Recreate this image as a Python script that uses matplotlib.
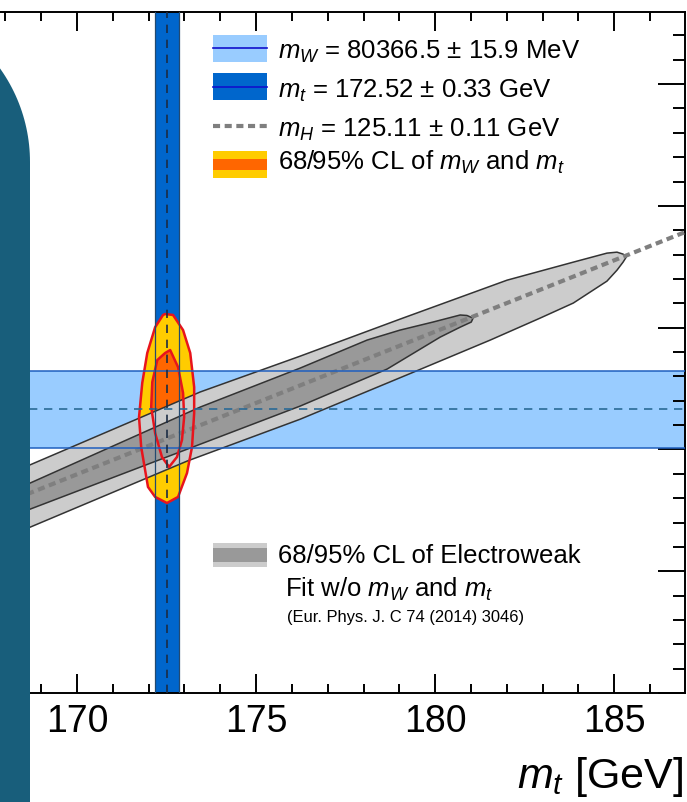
import numpy as np
import matplotlib
matplotlib.use("Agg")
import matplotlib.pyplot as plt
from matplotlib.patches import Polygon, Rectangle
from matplotlib.ticker import MultipleLocator

plt.rcParams['font.family'] = ['Liberation Sans', 'DejaVu Sans']
plt.rcParams['mathtext.fontset'] = 'custom'
plt.rcParams['mathtext.rm'] = 'Liberation Sans'
plt.rcParams['mathtext.it'] = 'Liberation Sans:italic'

# measurements (GeV)
mw_central, mw_err = 80.3665, 0.0159
mt_central, mt_err = 172.52, 0.33

# SM prediction line for m_H = 125.11 GeV
mh_line_mt = [168.0, 188.0]
mh_line_mw = [80.3281, 80.4452]

cl95_mt = [172.46, 172.68, 172.96, 173.16, 173.27, 173.27, 173.21, 173.07, 172.82,
           172.51, 172.18, 171.98, 171.79, 171.73, 171.82, 171.96, 172.18, 172.40]
cl95_mw = [80.4056, 80.4052, 80.3990, 80.3896, 80.3756, 80.3649, 80.3510, 80.3403, 80.3305,
           80.3280, 80.3305, 80.3346, 80.3510, 80.3633, 80.3773, 80.3896, 80.4002, 80.4052]
cl68_mt = [172.60, 172.82, 172.96, 172.99, 172.93, 172.79, 172.57, 172.37, 172.18,
           172.07, 172.10, 172.24, 172.46]
cl68_mw = [80.3908, 80.3838, 80.3732, 80.3633, 80.3539, 80.3469, 80.3428, 80.3469, 80.3567,
           80.3674, 80.3777, 80.3867, 80.3896]

# 68/95% CL of the electroweak fit without m_W and m_t
ew95_mt = [167.5, 173.44, 176.23, 179.02, 182.01, 183.86, 184.80, 185.08, 185.25, 185.34,
           185.25, 185.08, 184.80, 183.86, 182.93, 181.54, 179.67, 176.23, 173.07, 168.69, 167.5]
ew95_mw = [80.3362, 80.3736, 80.3883, 80.4035, 80.4195, 80.4269, 80.4306, 80.4310, 80.4302, 80.4290,
           80.4269, 80.4236, 80.4191, 80.4101, 80.4039, 80.3949, 80.3834, 80.3624, 80.3452, 80.3181, 80.3108]
ew68_mt = [167.5, 173.44, 176.23, 178.10, 179.02, 179.94, 180.70, 180.89, 181.06,
           181.01, 180.70, 180.14, 178.66, 176.23, 168.69, 167.5]
ew68_mw = [80.3284, 80.3674, 80.3834, 80.3949, 80.3990, 80.4023, 80.4052, 80.4050, 80.4039,
           80.4023, 80.4002, 80.3961, 80.3830, 80.3678, 80.3255, 80.3190]

W, H = 687, 802
fig = plt.figure(figsize=(W / 100, H / 100), dpi=100)
ax = fig.add_axes([-50 / W, (H - 693) / H, 735 / W, 681 / H])
ax.set_xlim(166.45, 186.98)
ax.set_ylim(80.25, 80.5296)

light_blue = '#99ccff'
dark_blue = '#0066cc'
gray_line = '#7f7f7f'

# bands
ax.axhspan(mw_central - mw_err, mw_central + mw_err, color=light_blue, lw=0, zorder=1)
ax.axvspan(mt_central - mt_err, mt_central + mt_err, color=dark_blue, lw=0, zorder=1.1)

# measured contours
ax.add_patch(Polygon(np.column_stack([cl95_mt, cl95_mw]), closed=True, fc='#ffcc00', ec='none', zorder=2))
ax.add_patch(Polygon(np.column_stack([cl68_mt, cl68_mw]), closed=True, fc='#ff6600', ec='none', zorder=2.1))

# EW fit contours
ax.add_patch(Polygon(np.column_stack([ew95_mt, ew95_mw]), closed=True, fc='#cccccc', ec='#333333',
                     lw=1.1, joinstyle='round', zorder=3))
ax.add_patch(Polygon(np.column_stack([ew68_mt, ew68_mw]), closed=True, fc='#999999', ec='#333333',
                     lw=1.1, joinstyle='round', zorder=3.1))
ax.plot(mh_line_mt, mh_line_mw, color=gray_line, lw=3, ls=(0, (1.7, 1.1)), zorder=3.5)

ax.add_patch(Polygon(np.column_stack([cl95_mt, cl95_mw]), closed=True, fc='none', ec='#e8141c', lw=1.8,
                     joinstyle='round', zorder=4))
ax.add_patch(Polygon(np.column_stack([cl68_mt, cl68_mw]), closed=True, fc='none', ec='#e8141c', lw=1.8,
                     joinstyle='round', zorder=4))

# band edges and central values
for v in (mw_central - mw_err, mw_central + mw_err):
    ax.axhline(v, color='#1f5fbf', lw=1.1, zorder=5)
ax.axhline(mw_central, color='#2a6a96', lw=1.2, ls=(0, (5, 4)), zorder=5)
for v in (mt_central - mt_err, mt_central + mt_err):
    ax.axvline(v, color='#234a70', lw=0.9, zorder=5)
ax.axvline(mt_central, color='#1b2c44', lw=1.2, ls=(0, (5, 4)), zorder=5)

# axes styling
ax.xaxis.set_major_locator(MultipleLocator(5))
ax.xaxis.set_minor_locator(MultipleLocator(1))
ax.yaxis.set_major_locator(MultipleLocator(0.05))
ax.yaxis.set_minor_locator(MultipleLocator(0.01))
ax.tick_params(which='both', direction='in', top=True, right=True, labelleft=False, width=1.4)
ax.tick_params(axis='x', which='major', length=13.7, labelsize=27, pad=8)
ax.tick_params(axis='x', which='minor', length=6.5)
ax.tick_params(axis='y', which='major', length=19.4)
ax.tick_params(axis='y', which='minor', length=8.6)
for s in ax.spines.values():
    s.set_linewidth(1.4)
ax.set_xlabel('$m_{t}$ [GeV]', fontsize=31, loc='right')
ax.xaxis.set_label_coords(0.997, -0.091)

# legend (drawn by hand, ROOT style)
T = ax.transAxes
lx0, lx1 = 0.3578, 0.4313
tx = 0.4463
fs = 18.5
ax.add_patch(Rectangle((lx0, 0.9266), lx1 - lx0, 0.0396, transform=T, fc=light_blue, ec='none', zorder=6))
ax.plot([lx0, lx1], [0.9470, 0.9470], transform=T, color='#1010cc', lw=1.2, zorder=7)
ax.add_patch(Rectangle((lx0, 0.8708), lx1 - lx0, 0.0396, transform=T, fc=dark_blue, ec='none', zorder=6))
ax.plot([lx0, lx1], [0.8899, 0.8899], transform=T, color='#1010cc', lw=1.2, zorder=7)
ax.plot([lx0, lx1], [0.8326, 0.8326], transform=T, color=gray_line, lw=3, ls=(0, (1.7, 1.1)), zorder=7)
ax.add_patch(Rectangle((lx0, 0.7562), lx1 - lx0, 0.0397, transform=T, fc='#ffcc00', ec='none', zorder=6))
ax.add_patch(Rectangle((lx0, 0.7680), lx1 - lx0, 0.0161, transform=T, fc='#ff6600', ec='none', zorder=6))

ax.text(tx, 0.931, '$m_{W}$ = 80366.5 ± 15.9 MeV', transform=T, fontsize=fs, va='baseline', zorder=7)
ax.text(tx, 0.8737, '$m_{t}$ = 172.52 ± 0.33 GeV', transform=T, fontsize=fs, va='baseline', zorder=7)
ax.text(tx, 0.8164, '$m_{H}$ = 125.11 ± 0.11 GeV', transform=T, fontsize=fs, va='baseline', zorder=7)
ax.text(tx, 0.768, '68/95% CL of $m_{W}$ and $m_{t}$', transform=T, fontsize=fs, va='baseline', zorder=7)

ax.add_patch(Rectangle((lx0, 0.1850), lx1 - lx0, 0.0353, transform=T, fc='#cccccc', ec='none', zorder=6))
ax.add_patch(Rectangle((lx0, 0.1924), lx1 - lx0, 0.0205, transform=T, fc='#999999', ec='none', zorder=6))
ax.text(tx, 0.1909, '68/95% CL of Electroweak', transform=T, fontsize=fs, va='baseline', zorder=7)
ax.text(0.4558, 0.141, 'Fit w/o $m_{W}$ and $m_{t}$', transform=T, fontsize=fs, va='baseline', zorder=7)
ax.text(0.4585, 0.104, '(Eur. Phys. J. C 74 (2014) 3046)', transform=T, fontsize=11.9, va='baseline', zorder=7)

# slide decoration covering the left edge
R, cx, cy = 161, -131, 162
t = np.linspace(0, np.pi / 2, 60)
px = np.concatenate([cx + R * np.sin(t), [30, -300, -300]])
py = np.concatenate([cy - R * np.cos(t), [H + 10, H + 10, cy - R]])
fig.add_artist(Polygon(np.column_stack([px / W, 1 - py / H]), closed=True, transform=fig.transFigure,
                       fc='#185e7b', ec='none', zorder=10))

fig.savefig('out.png', dpi=100)
